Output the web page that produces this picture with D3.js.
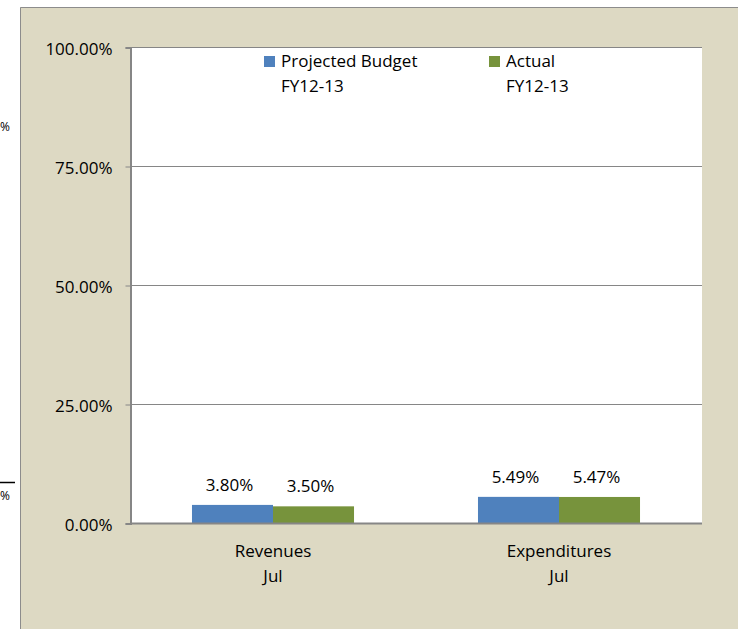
<!DOCTYPE html>
<html>
<head>
<meta charset="utf-8">
<script src="https://cdn.jsdelivr.net/npm/d3@7"></script>
<style>
  body { margin: 0; background: #fff; }
  svg { display: block; }
  text { font-family: "Open Sans", sans-serif; fill: #000; }
</style>
</head>
<body>
<div id="chart"></div>
<script>
// data
const categories = ["Revenues\nJul", "Expenditures\nJul"];
const seriesNames = ["Projected Budget\nFY12-13", "Actual\nFY12-13"];
const projected = [3.80, 5.49];
const actual = [3.50, 5.47];
const yTicks = [0, 25, 50, 75, 100];
const colors = ["#4f81bd", "#77933c"];

const width = 738, height = 629;
const margin = { top: 47, right: 36, bottom: 106, left: 130 };
const fontSize = 17;

const svg = d3.select("#chart").append("svg")
  .attr("width", width)
  .attr("height", height);

// beige panel
svg.append("rect")
  .attr("x", 20).attr("y", 7)
  .attr("width", width - 20).attr("height", height - 7)
  .attr("fill", "#ddd9c3");
svg.append("path")
  .attr("d", "M20.5," + height + "V7.5H" + width)
  .attr("stroke", "#8c8c8c").attr("fill", "none");

// stray bits left of the panel
svg.append("text").attr("x", 0).attr("y", 131).attr("font-size", 12).text("%");
svg.append("line").attr("x1", 0).attr("x2", 15).attr("y1", 482.5).attr("y2", 482.5)
  .attr("stroke", "#000").attr("stroke-width", 1.5);
svg.append("text").attr("x", 0).attr("y", 500).attr("font-size", 12).text("%");

const x = d3.scaleBand()
  .domain(categories)
  .range([margin.left, width - margin.right]);

const xInner = d3.scaleBand()
  .domain([0, 1])
  .range([0, x.bandwidth()])
  .paddingInner(0)
  .paddingOuter(0.765);

const y = d3.scaleLinear()
  .domain([0, 100])
  .range([height - margin.bottom, margin.top]);

// plot area
svg.append("rect")
  .attr("x", margin.left).attr("y", margin.top)
  .attr("width", width - margin.left - margin.right)
  .attr("height", y(0) - margin.top)
  .attr("fill", "#fff");

// gridlines
svg.append("g")
  .selectAll("line")
  .data(yTicks.filter(d => d > 0))
  .join("line")
  .attr("x1", margin.left).attr("x2", width - margin.right)
  .attr("y1", d => Math.round(y(d)) + 0.5).attr("y2", d => Math.round(y(d)) + 0.5)
  .attr("stroke", "#868686");

// y axis
const yAxis = svg.append("g")
  .attr("transform", "translate(" + (margin.left + 0.5) + ",0.5)")
  .call(d3.axisLeft(y).tickValues(yTicks).tickSize(5).tickPadding(13)
    .tickFormat(d => d3.format(".2f")(d) + "%"));
yAxis.select(".domain").attr("stroke", "#868686").attr("stroke-width", 2);
yAxis.selectAll(".tick line").attr("stroke", "#868686");
yAxis.selectAll(".tick text").attr("font-size", fontSize).attr("dy", "0.42em")
  .style("font-family", "'Open Sans', sans-serif").attr("fill", "#000");

// bars
const rows = categories.map((c, i) => ({ cat: c, vals: [projected[i], actual[i]] }));
const groups = svg.append("g").selectAll("g")
  .data(rows)
  .join("g")
  .attr("transform", d => "translate(" + x(d.cat) + ",0)");

groups.selectAll("rect")
  .data(d => d.vals.map((v, k) => ({ v, k })))
  .join("rect")
  .attr("x", d => xInner(d.k))
  .attr("width", xInner.bandwidth())
  .attr("y", d => y(d.v))
  .attr("height", d => y(0) - y(d.v))
  .attr("fill", d => colors[d.k]);

groups.selectAll("text.val")
  .data(d => d.vals.map((v, k) => ({ v, k })))
  .join("text")
  .attr("class", "val")
  .attr("x", d => xInner(d.k) + xInner.bandwidth() / 2 - 3)
  .attr("y", d => y(d.v) - 14)
  .attr("text-anchor", "middle")
  .attr("font-size", fontSize)
  .text(d => d3.format(".2f")(d.v) + "%");

// x axis line
svg.append("line")
  .attr("x1", margin.left).attr("x2", width - margin.right)
  .attr("y1", y(0) + 0.5).attr("y2", y(0) + 0.5)
  .attr("stroke", "#868686").attr("stroke-width", 2);

// category labels
svg.append("g").selectAll("text")
  .data(categories)
  .join("text")
  .attr("text-anchor", "middle")
  .attr("font-size", fontSize)
  .attr("x", d => x(d) + x.bandwidth() / 2)
  .attr("y", y(0) + 34)
  .selectAll("tspan")
  .data(d => d.split("\n"))
  .join("tspan")
  .attr("x", function() { return this.parentNode.getAttribute("x"); })
  .attr("dy", (d, i) => i === 0 ? 0 : 25)
  .text(d => d);

// legend
const legendX = [264, 489];
const legend = svg.append("g").selectAll("g")
  .data(seriesNames)
  .join("g")
  .attr("transform", (d, i) => "translate(" + legendX[i] + ",56)");
legend.append("rect")
  .attr("width", 11).attr("height", 11)
  .attr("fill", (d, i) => colors[i]);
legend.append("text")
  .attr("x", 17).attr("y", 11)
  .attr("font-size", fontSize)
  .selectAll("tspan")
  .data(d => d.split("\n"))
  .join("tspan")
  .attr("x", 17)
  .attr("dy", (d, i) => i === 0 ? 0 : 25)
  .text(d => d);
</script>
</body>
</html>
